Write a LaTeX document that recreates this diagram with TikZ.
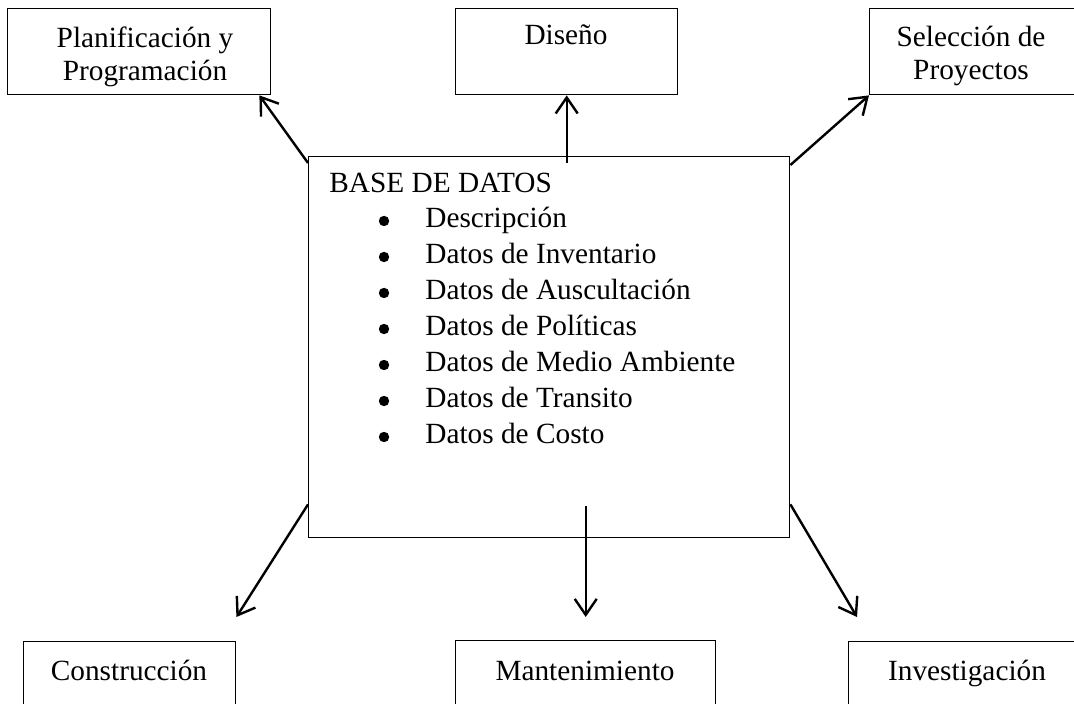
\documentclass[tikz,border=0pt]{standalone}
\usepackage{fontspec}
\setmainfont{Liberation Serif}
\usetikzlibrary{arrows.meta}

\begin{document}
\begin{tikzpicture}[
    x=0.5pt, y=-0.5pt,
    box/.style={
        inner sep=0pt,
        rectangle,
        draw,
        line width=0.7pt,
        anchor=north west,
        minimum height=43pt,
    },
    dot/.style={
        inner sep=0pt,
        circle,
        fill,
        minimum size=5.2pt,
    },
    link/.style={
        line width=1.2pt,
        -{Straight Barb[length=8pt,width=11pt]},
    },
    every node/.style={
        font=\fontsize{14.65}{16.5}\selectfont,
    },
]
    \useasboundingbox (0,0) rectangle (1074,704);

    % boxes round the data base
    \node[box,minimum width=131.5pt] (plan) at (7,8) {};
    \node[box,minimum width=111pt] (dis) at (455,8) {};
    \node[box,minimum width=125pt] (sel) at (869,8) {};
    \node[box,minimum width=106pt,minimum height=50pt] (cons) at (23,641) {};
    \node[box,minimum width=130pt,minimum height=50pt] (mant) at (455,640) {};
    \node[box,minimum width=130pt,minimum height=50pt] (inv) at (848,641) {};

    \node[inner sep=0pt,align=center,anchor=north] (planText) at (145,26) {Planificación y\\Programación};
    \node[inner sep=0pt,anchor=base] (disText) at (566,45) {Diseño};
    \node[inner sep=0pt,align=center,anchor=north] (selText) at (971,26) {Selección de\\Proyectos};
    \node[inner sep=0pt,anchor=base] (consText) at (129,680) {Construcción};
    \node[inner sep=0pt,anchor=base] (mantText) at (585,680) {Mantenimiento};
    \node[inner sep=0pt,anchor=base] (invText) at (967,680) {Investigación};

    % the data base
    \node[box,minimum width=240.5pt,minimum height=190.5pt] (base) at (308,156) {};
    \node[inner sep=0pt,anchor=base west] (title) at (329,193) {BASE DE DATOS};

    \foreach \item [count=\i] in {Descripción,Datos de Inventario,Datos de Auscultación,Datos de Políticas,Datos de Medio Ambiente,Datos de Transito,Datos de Costo} {
        \node[dot] (b\i) at (384,221+36*\i-36) {};
        \node[inner sep=0pt,anchor=base west] (d\i) at (425,228+36*\i-36) {\item};
    }

    % arrows
    \draw[link] ([yshift=-3.5pt]base.north west) -- ([xshift=-6pt]plan.south east);
    \draw[link] ([yshift=-3.5pt]base.north -| dis.south) -- (dis.south);
    \draw[link] ([yshift=-4.5pt]base.north east) -- (sel.south west);
    \draw[link] ([yshift=17pt]base.south west) -- ([yshift=12pt]cons.north east);
    \draw[link] ([yshift=16pt]base.south -| mant.north) -- ([yshift=11.5pt]mant.north);
    \draw[link] ([yshift=17pt]base.south east) -- ([shift={(4.5pt,12pt)}]inv.north west);
\end{tikzpicture}
\end{document}
